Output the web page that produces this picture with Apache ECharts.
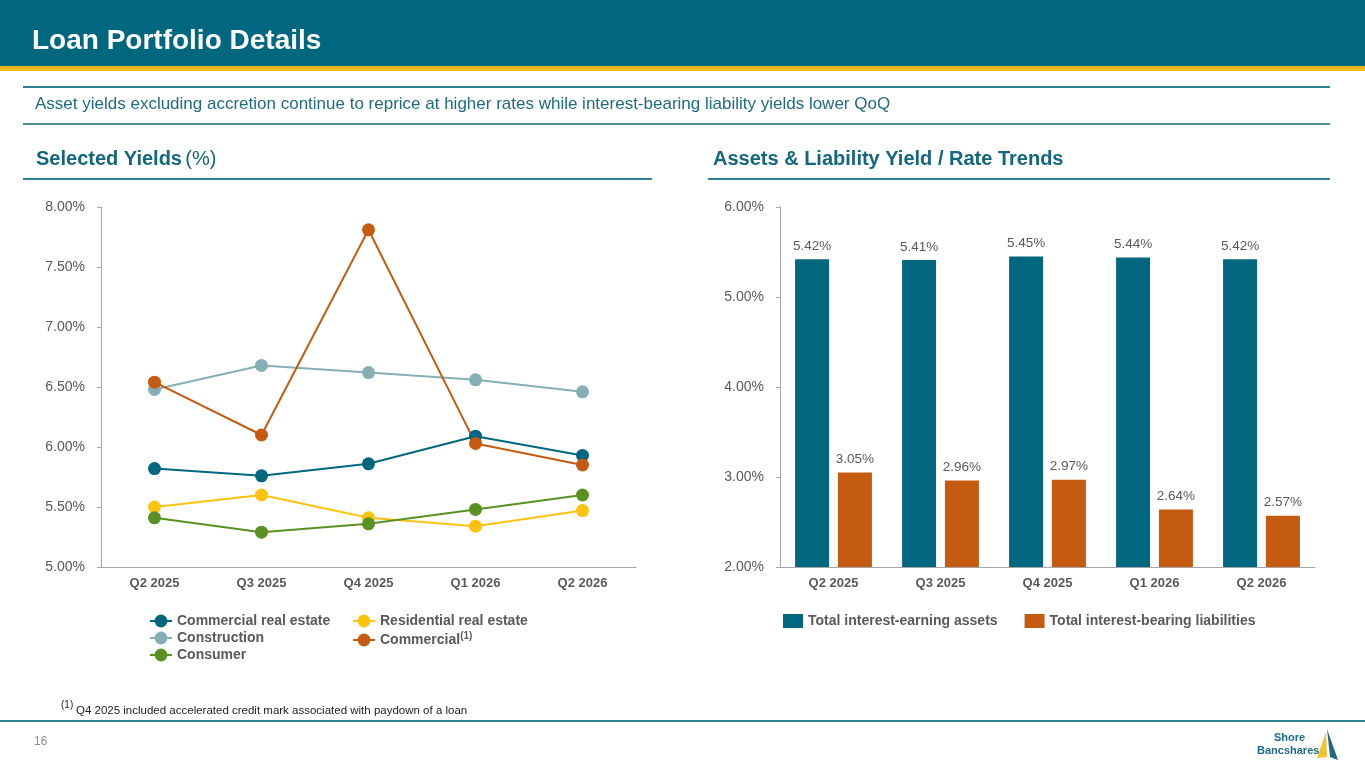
<!DOCTYPE html>
<html>
<head>
<meta charset="utf-8">
<script src="https://cdn.jsdelivr.net/npm/echarts@6/dist/echarts.min.js"></script>
<style>
html,body{margin:0;padding:0;background:#fff;}
#c{width:1365px;height:768px;}
</style>
</head>
<body>
<div id="c"></div>
<script>
// ---- Data ----
const quarters = ['Q2 2025', 'Q3 2025', 'Q4 2025', 'Q1 2026', 'Q2 2026'];
const commercialRealEstate = [5.82, 5.76, 5.86, 6.09, 5.93];
const residentialRealEstate = [5.50, 5.60, 5.41, 5.34, 5.47];
const construction = [6.48, 6.68, 6.62, 6.56, 6.46];
const commercial = [6.54, 6.10, 7.81, 6.03, 5.85];
const consumer = [5.41, 5.29, 5.36, 5.48, 5.60];
const earningAssets = [5.42, 5.41, 5.45, 5.44, 5.42];
const bearingLiabilities = [3.05, 2.96, 2.97, 2.64, 2.57];
const leftTicks = { min: 5, max: 8, interval: 0.5 };
const rightTicks = { min: 2, max: 6, interval: 1 };

const FONT = '"Liberation Sans", Arial, sans-serif';
const GREY = '#595959';
const AXIS = '#A6A6A6';

const chart = echarts.init(document.getElementById('c'));

function lineSeries(name, data, color) {
  return {
    name: name, type: 'line', data: data,
    xAxisIndex: 0, yAxisIndex: 0,
    symbol: 'circle', symbolSize: 13,
    lineStyle: { color: color, width: 2 },
    itemStyle: { color: color },
    emphasis: { disabled: true },
    animation: false
  };
}

const legendText = {
  color: GREY, fontSize: 14, fontWeight: 'bold', fontFamily: FONT,
  rich: { sup: { fontSize: 10, fontWeight: 'bold', color: GREY, fontFamily: FONT, verticalAlign: 'top', padding: [0, 0, 8, 0] } }
};
function legendFmt(n) { return n === 'Commercial' ? 'Commercial{sup|(1)}' : n; }
const yLabel = { color: GREY, fontSize: 14, margin: 16, fontFamily: FONT, formatter: v => v.toFixed(2) + '%' };
const xLabel = { color: GREY, fontSize: 13, fontWeight: 'bold', margin: 10, fontFamily: FONT };
const barLabel = { show: true, position: 'top', distance: 6, color: GREY, fontSize: 13.5, fontFamily: FONT, formatter: p => p.value.toFixed(2) + '%' };

const option = {
  animation: false,
  textStyle: { fontFamily: FONT },
  grid: [
    { left: 101, top: 207, width: 535, height: 360, containLabel: false },
    { left: 780, top: 207, width: 535, height: 360, containLabel: false }
  ],
  xAxis: [
    {
      gridIndex: 0, type: 'category', data: quarters, boundaryGap: true,
      axisLine: { lineStyle: { color: AXIS, width: 1 } },
      axisTick: { alignWithLabel: true, length: 4, lineStyle: { color: AXIS } },
      axisLabel: xLabel
    },
    {
      gridIndex: 1, type: 'category', data: quarters, boundaryGap: true,
      axisLine: { lineStyle: { color: AXIS, width: 1 } },
      axisTick: { show: false },
      axisLabel: xLabel
    }
  ],
  yAxis: [
    {
      gridIndex: 0, type: 'value', min: leftTicks.min, max: leftTicks.max, interval: leftTicks.interval,
      axisLine: { show: true, lineStyle: { color: AXIS } },
      axisTick: { show: true, length: 4, lineStyle: { color: AXIS } },
      splitLine: { show: false },
      axisLabel: yLabel
    },
    {
      gridIndex: 1, type: 'value', min: rightTicks.min, max: rightTicks.max, interval: rightTicks.interval,
      axisLine: { show: true, lineStyle: { color: AXIS } },
      axisTick: { show: true, length: 4, lineStyle: { color: AXIS } },
      splitLine: { show: false },
      axisLabel: yLabel
    }
  ],
  legend: [
    {
      orient: 'vertical', left: 149, top: 614, padding: 0, itemWidth: 22, itemHeight: 16, itemGap: 3,
      data: ['Commercial real estate', 'Construction', 'Consumer'],
      textStyle: legendText, formatter: legendFmt, selectedMode: false
    },
    {
      orient: 'vertical', left: 352, top: 614, padding: 0, itemWidth: 22, itemHeight: 16, itemGap: 3,
      data: ['Residential real estate', 'Commercial'],
      textStyle: legendText, formatter: legendFmt, selectedMode: false
    },
    {
      orient: 'horizontal', left: 783, top: 614, padding: 0, itemWidth: 20, itemHeight: 14, itemGap: 27,
      data: ['Total interest-earning assets', 'Total interest-bearing liabilities'],
      icon: 'rect',
      textStyle: { color: GREY, fontSize: 14, fontWeight: 'bold', fontFamily: FONT }, selectedMode: false
    }
  ],
  series: [
    lineSeries('Commercial real estate', commercialRealEstate, '#00677F'),
    lineSeries('Residential real estate', residentialRealEstate, '#FFC20E'),
    lineSeries('Construction', construction, '#86AFB5'),
    lineSeries('Commercial', commercial, '#C55A11'),
    lineSeries('Consumer', consumer, '#5A9122'),
    {
      name: 'Total interest-earning assets', type: 'bar', data: earningAssets,
      xAxisIndex: 1, yAxisIndex: 1, barWidth: 34, barGap: '26%',
      itemStyle: { color: '#00677F' }, label: barLabel
    },
    {
      name: 'Total interest-bearing liabilities', type: 'bar', data: bearingLiabilities,
      xAxisIndex: 1, yAxisIndex: 1, barWidth: 34, barGap: '26%',
      itemStyle: { color: '#C55A11' }, label: barLabel
    }
  ],
  graphic: [
    { type: 'rect', left: 0, top: 0, shape: { width: 1365, height: 66 }, style: { fill: '#00677F' }, silent: true },
    { type: 'rect', left: 0, top: 66, shape: { width: 1365, height: 5 }, style: { fill: '#F0B81C' }, silent: true },
    { type: 'text', left: 32, top: 27, style: { text: 'Loan Portfolio Details', fill: '#fff', font: 'bold 28px ' + FONT } },
    { type: 'rect', left: 23, top: 86, shape: { width: 1307, height: 2 }, style: { fill: '#2E7F90' }, silent: true },
    { type: 'text', left: 35, top: 96, style: { text: 'Asset yields excluding accretion continue to reprice at higher rates while interest-bearing liability yields lower QoQ', fill: '#1F6B80', font: '17px ' + FONT } },
    { type: 'rect', left: 23, top: 123, shape: { width: 1307, height: 2 }, style: { fill: '#4E8C98' }, silent: true },
    { type: 'text', left: 36, top: 149, style: { text: '{b|Selected Yields} {n|(%)}', rich: { b: { font: 'bold 20px ' + FONT, fill: '#13677C' }, n: { font: '20px ' + FONT, fill: '#13677C' } } } },
    { type: 'rect', left: 23, top: 178, shape: { width: 629, height: 2 }, style: { fill: '#2E7F90' }, silent: true },
    { type: 'text', left: 713, top: 149, style: { text: 'Assets & Liability Yield / Rate Trends', fill: '#13677C', font: 'bold 20px ' + FONT } },
    { type: 'rect', left: 708, top: 178, shape: { width: 622, height: 2 }, style: { fill: '#2E7F90' }, silent: true },
    { type: 'text', left: 61, top: 700, style: { text: '(1)', fill: '#222', font: '10px ' + FONT } },
    { type: 'text', left: 76, top: 705, style: { text: 'Q4 2025 included accelerated credit mark associated with paydown of a loan', fill: '#222', font: '11.5px ' + FONT } },
    { type: 'rect', left: 0, top: 720, shape: { width: 1365, height: 2 }, style: { fill: '#2E8595' }, silent: true },
    { type: 'text', left: 34, top: 736, style: { text: '16', fill: '#8C8C8C', font: '12px ' + FONT } },
    { type: 'text', left: 1274, top: 732, style: { text: 'Shore', fill: '#1E6A85', font: 'bold 11px ' + FONT } },
    { type: 'text', left: 1257, top: 745, style: { text: 'Bancshares', fill: '#1E6A85', font: 'bold 11px ' + FONT } },
    { type: 'polygon', shape: { points: [[1326, 732], [1317, 758], [1327, 757]] }, style: { fill: '#F2C12E' }, silent: true },
    { type: 'polygon', shape: { points: [[1327, 729], [1330, 757], [1338, 760]] }, style: { fill: '#1E6A80' }, silent: true }
  ]
};
chart.setOption(option);
</script>
</body>
</html>
